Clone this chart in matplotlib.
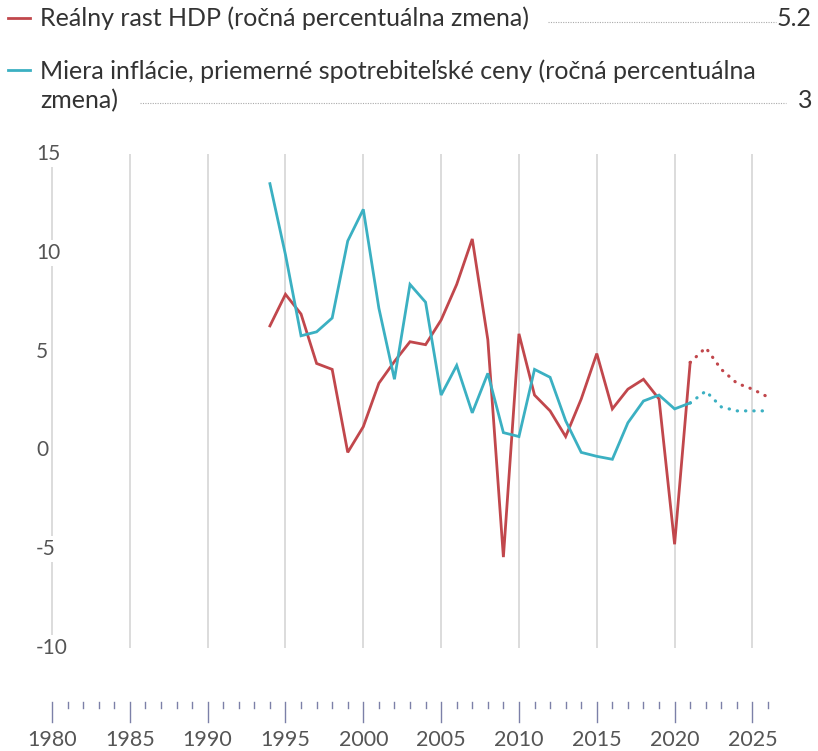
import matplotlib
matplotlib.use("Agg")
import matplotlib.pyplot as plt
import numpy as np

plt.rcParams['font.family'] = ['Lato', 'DejaVu Sans']

# data
years = list(range(1994, 2022))
gdp = [6.3, 7.9, 6.9, 4.4, 4.1, -0.1, 1.2, 3.4, 4.5, 5.5, 5.35, 6.6, 8.4, 10.7,
       5.6, -5.4, 5.9, 2.8, 2.0, 0.7, 2.6, 4.9, 2.1, 3.1, 3.6, 2.6, -4.75, 4.45]
infl = [13.5, 9.9, 5.8, 6.0, 6.7, 10.6, 12.2, 7.2, 3.6, 8.4, 7.5, 2.8, 4.3, 1.9,
        3.9, 0.9, 0.7, 4.1, 3.7, 1.5, -0.1, -0.3, -0.45, 1.4, 2.5, 2.8, 2.1, 2.4]
fc_years = [2021, 2022, 2023, 2024, 2025, 2026]
gdp_fc = [4.45, 5.2, 4.1, 3.4, 3.1, 2.7]
infl_fc = [2.4, 3.0, 2.2, 2.0, 2.0, 2.0]

legend_labels = ['Reálny rast HDP (ročná percentuálna zmena)',
                 'Miera inflácie, priemerné spotrebiteľské ceny (ročná percentuálna\nzmena)']
legend_values = ['5.2', '3']

red = '#c1474c'
blue = '#3bb0c2'
grid_c = '#dcdcdc'
text_c = '#333333'
tick_c = '#555555'

W, H = 818, 751
fig = plt.figure(figsize=(W / 100, H / 100), dpi=100)

def fx(px):
    return px / W

def fy(py):
    return 1 - py / H

# main axes: 1980 at x=52, 2026 at x=768; 15 at y=154, -10 at y=648
ppy = (768 - 52) / 46.0
x0, x1 = 1980 - 20 / ppy, 2026 + 20 / ppy
ax = fig.add_axes([fx(32), fy(648), fx(788) - fx(32), fy(154) - fy(648)])
ax.set_xlim(x0, x1)
ax.set_ylim(-10, 15)
for s in ax.spines.values():
    s.set_visible(False)
ax.set_xticks([])
ax.set_yticks([])
ax.vlines(range(1980, 2030, 5), -10, 15, color=grid_c, lw=1.4, zorder=1)

ax.plot(years, gdp, color=red, lw=2, zorder=3, solid_joinstyle='miter')
ax.plot(years, infl, color=blue, lw=2, zorder=3, solid_joinstyle='miter')
ax.plot(fc_years, gdp_fc, color=red, lw=2.3, ls=(0, (0.1, 2.5)),
        dash_capstyle='round', zorder=3)
ax.plot(fc_years, infl_fc, color=blue, lw=2.3, ls=(0, (0.1, 2.5)),
        dash_capstyle='round', zorder=3)

# y tick labels sitting on the 1980 gridline
for v in [15, 10, 5, 0, -5, -10]:
    ax.text(1980 - 16 / ppy, v, str(v), ha='left', va='center', fontsize=15,
            color=tick_c, zorder=4,
            bbox=dict(facecolor='white', edgecolor='none', pad=2))

# separate year tick axis at the bottom
tax = fig.add_axes([fx(32), fy(722), fx(788) - fx(32), fy(702) - fy(722)])
tax.set_xlim(x0, x1)
tax.set_ylim(0, 1)
tax.axis('off')
for yr in range(1980, 2027):
    h = 1.0 if yr % 5 == 0 else 0.3
    tax.plot([yr, yr], [1 - h, 1], color='#7c80a8', lw=1.0, clip_on=False)
    if yr % 5 == 0:
        tax.text(yr, -0.4, str(yr), ha='center', va='top', fontsize=15.5,
                 color=tick_c, clip_on=False)

# legend at the top
fig.add_artist(plt.Line2D([fx(8), fx(30)], [fy(18), fy(18)], color=red, lw=2))
fig.text(fx(40), fy(18), legend_labels[0], fontsize=18, color=text_c,
         ha='left', va='center')
fig.add_artist(plt.Line2D([fx(548), fx(776)], [fy(22), fy(22)], color='#aaaaaa',
                          lw=0.8, ls=(0, (1, 1.2))))
fig.text(fx(812), fy(18), legend_values[0], fontsize=18, color=text_c,
         ha='right', va='center')

fig.add_artist(plt.Line2D([fx(8), fx(30)], [fy(70), fy(70)], color=blue, lw=2))
fig.text(fx(40), fy(86), legend_labels[1], fontsize=18, color=text_c,
         ha='left', va='center', linespacing=1.3)
fig.add_artist(plt.Line2D([fx(140), fx(786)], [fy(103), fy(103)], color='#aaaaaa',
                          lw=0.8, ls=(0, (1, 1.2))))
fig.text(fx(812), fy(100), legend_values[1], fontsize=18, color=text_c,
         ha='right', va='center')

fig.savefig('out.png', dpi=100, facecolor='white')
